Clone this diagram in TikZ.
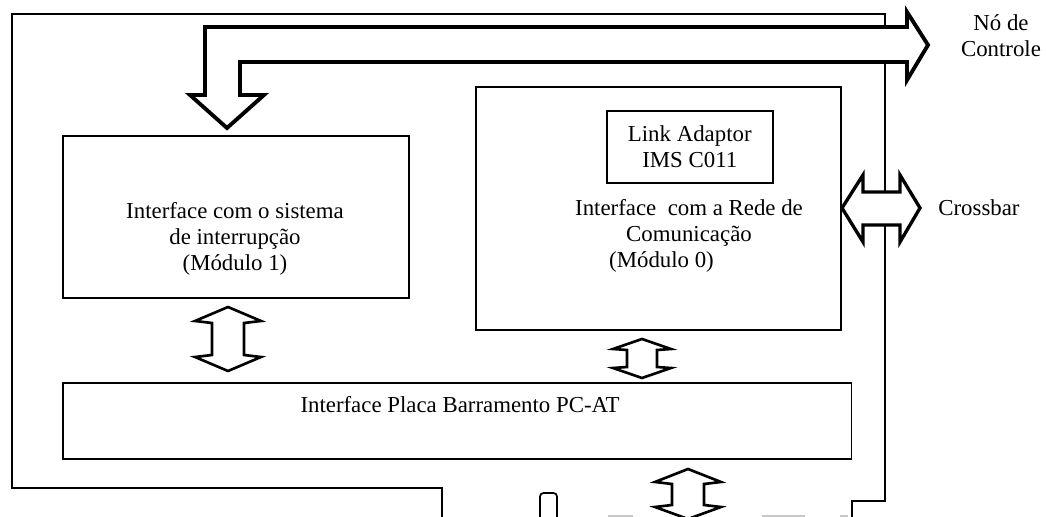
\documentclass[tikz,border=0pt]{standalone}
\usepackage{fontspec}
\setmainfont{Liberation Serif}

\tikzset{
  box/.style={draw, line width=0.9pt, anchor=north west, inner sep=0pt},
  txt/.style={align=center, inner sep=0pt},
  board/.style={line width=1pt},
  busline/.style={draw, fill=white, line width=2.2pt, line join=miter},
  biarrow/.style={draw, fill=white, line width=1.5pt, line join=miter},
}

\begin{document}
\begin{tikzpicture}[x=0.02cm, y=-0.02cm,
    every node/.style={font=\fontsize{13}{14.8}\selectfont}]
  \useasboundingbox (0,0) rectangle (1046,517);

  % placa
  \draw[board] (442,525) -- (442,488) -- (12,488) -- (12,14) -- (885,14)
    -- (885,501) -- (852,501) -- (852,525);
  \draw[board, rounded corners=2pt] (540,525) -- (540,493) -- (557,493) -- (557,525);
  \draw[gray!45, line width=1.6pt] (608,516) -- (633,516);
  \draw[gray!45, line width=1.6pt] (762,516) -- (805,516);
  \draw[gray!45, line width=1.6pt] (840,516) -- (848,516);

  % modulos
  \node[box, minimum width=6.92cm, minimum height=3.24cm] (m1) at (62,135) {};
  \node[txt] (m1txt) at (235,239) {Interface com o sistema\\de interrupção\\(Módulo 1)};

  \node[box, minimum width=7.30cm, minimum height=4.86cm] (m0) at (475,86) {};
  \node[box, minimum width=3.32cm, minimum height=1.44cm, align=center] (link) at (606,110)
    {Link Adaptor\\IMS C011};
  \node[txt] (m0txt) at (689,236)
    {Interface~~com a Rede de\\Comunicação\\(Módulo 0)\hspace*{1.1cm}};

  \node[box, minimum width=15.78cm, minimum height=1.52cm] (pcat) at (62,382) {};
  \node[txt] (pcattxt) at (460,405) {Interface Placa Barramento PC-AT};

  % barramento do no de controle
  \draw[busline] (205,95) -- (205,27) -- (907,27) -- (907,12) -- (928,45)
    -- (907,80) -- (907,62) -- (240,62) -- (240,95) -- (264,95) -- (227,128)
    -- (190,95) -- cycle;
  \node[txt] (ctrl) at (1001,36) {Nó de\\Controle};

  % crossbar
  \draw[busline, line width=1.9pt] (842,208) -- (863,175) -- (863,192) -- (900,192)
    -- (900,175) -- (920,208) -- (900,242) -- (900,225) -- (863,225)
    -- (863,242) -- cycle;
  \node[anchor=west, inner sep=0pt] (xbar) at (938,208) {Crossbar};

  % setas entre modulos
  \draw[biarrow, shift={(228,307)}] (0,0) -- (-33,14) -- (-16,16) -- (-16,48)
    -- (-33,50) -- (0,64) -- (33,50) -- (16,48) -- (16,16) -- (33,14) -- cycle;
  \draw[biarrow, shift={(642,339)}] (0,0) -- (-29,10) -- (-15,11) -- (-15,28)
    -- (-29,29) -- (0,39) -- (29,29) -- (15,28) -- (15,11) -- (29,10) -- cycle;
  \draw[biarrow, shift={(688,469)}] (0,0) -- (-33,13) -- (-16,15) -- (-16,36)
    -- (-33,38) -- (0,50) -- (33,38) -- (16,36) -- (16,15) -- (33,13) -- cycle;
\end{tikzpicture}
\end{document}
